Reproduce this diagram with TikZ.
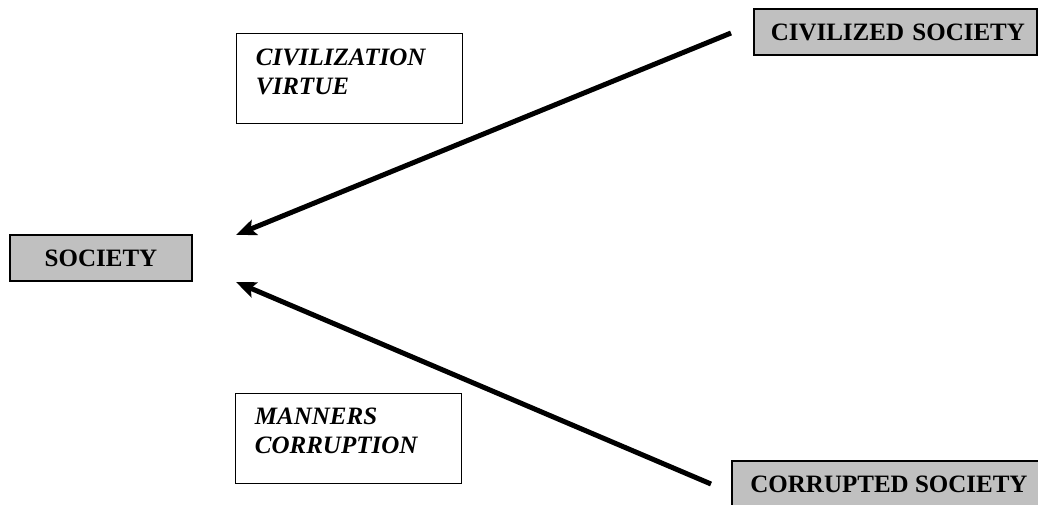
\documentclass[tikz,border=0pt]{standalone}
\usepackage{fontspec}
\setmainfont{Liberation Serif}
\usetikzlibrary{ arrows.meta, % For the thick arrow heads
                 positioning, % For easy node-relative placements
               }

\begin{document}
\begin{tikzpicture}[x=0.5pt, y=-0.5pt,
    greybox/.style={draw, line width=0.75pt, fill={rgb,255:red,192;green,192;blue,192},
                    minimum height=23pt, font=\fontsize{12.5}{14}\selectfont\bfseries},
    notebox/.style={draw, line width=0.5pt, minimum width=113pt, minimum height=45pt},
    notetext/.style={inner sep=0pt, align=left, font=\fontsize{12.5}{14.5}\selectfont\bfseries\itshape},
    bigarrow/.style={line width=2.5pt, -{Stealth[length=10pt, width=8pt, inset=2pt]}}]
  \clip (0,0) rectangle (1038,504);

  \node[greybox, minimum width=91pt] (society) at (101,258) {SOCIETY};
  \node[greybox, text width=129.5pt, inner xsep=6pt, align=right] (civilized) at (895.5,32) {CIVILIZED SOCIETY};
  \node[greybox, minimum width=157pt] (corrupted) at (889,484) {CORRUPTED SOCIETY};

  \node[notebox] (civ_box) at (349,78) {};
  \node[notetext, below right=8pt and 10pt of civ_box.north west] (civ_text) {CIVILIZATION\\VIRTUE};
  \node[notebox] (man_box) at (348,438) {};
  \node[notetext, below right=7.5pt and 10pt of man_box.north west] (man_text) {MANNERS\\CORRUPTION};

  \coordinate (civ_tail) at (731,33);
  \coordinate (soc_top) at (236,235);
  \coordinate (cor_tail) at (711,484);
  \coordinate (soc_bottom) at (236,282);

  \draw[bigarrow] (civ_tail) -- (soc_top);
  \draw[bigarrow] (cor_tail) -- (soc_bottom);
\end{tikzpicture}
\end{document}
